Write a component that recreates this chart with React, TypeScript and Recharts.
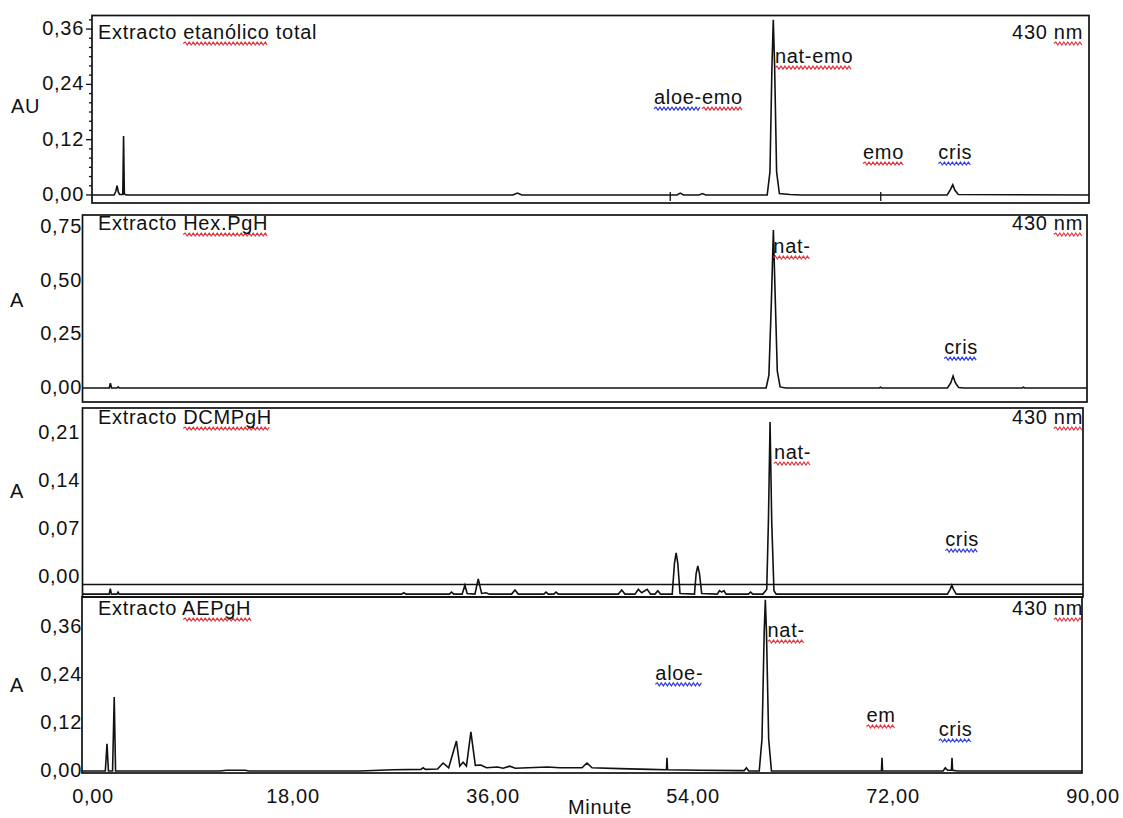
import React from 'react';
import { LineChart, Line, XAxis, YAxis, ReferenceArea, ReferenceLine, ReferenceDot } from 'recharts';

const W = 1123;
const H = 818;
const FONT = '"Liberation Sans", Arial, Helvetica, sans-serif';
const FS = 20;
const LS = 0.7;
const INK = '#111';
const RED = '#e3303a';
const BLUE = '#3040e0';

type Part = { s: string; u?: string };
type Ann = { t: number; v: number; parts: Part[] };

// ---------- shared x axis ----------
const xTicks = [0, 18, 36, 54, 72, 90];
const xTickLabels = ['0,00', '18,00', '36,00', '54,00', '72,00', '90,00'];

// ---------- Panel 1: Extracto etanólico total ----------
const totalTrace: [number, number][] = [
  [0, 0], [2.0, 0], [2.15, 0.008], [2.26, 0.02], [2.38, 0.006], [2.5, 0.001], [2.78, 0.001],
  [2.85, 0.128], [2.92, 0.002], [3.1, 0], [38.0, 0], [38.4, 0.004], [38.8, 0],
  [52.8, 0], [53.1, 0.004], [53.4, 0], [54.8, 0], [55.1, 0.003], [55.4, 0],
  [60.95, 0], [61.2, 0.05], [61.38, 0.28], [61.5, 0.38], [61.62, 0.28], [61.8, 0.05], [62.05, 0.003],
  [63.0, 0.001], [64.0, 0], [77.2, 0], [77.5, 0.012], [77.7, 0.022], [77.9, 0.01], [78.2, 0.001], [90, 0],
];
const totalTicks = [0, 0.12, 0.24, 0.36];
const totalTickLabels = ['0,00', '0,12', '0,24', '0,36'];
const totalMinorTicks = [0.02, 0.04, 0.06, 0.08, 0.1, 0.14, 0.16, 0.18, 0.2, 0.22, 0.26, 0.28, 0.3, 0.32, 0.34, 0.38];
const totalMarks = [52.2, 71.2];
const totalPeakLabels: Ann[] = [
  { t: 50.73, v: 0.197, parts: [{ s: 'aloe-', u: BLUE }, { s: 'emo', u: RED }] },
  { t: 61.65, v: 0.286, parts: [{ s: 'nat-emo', u: RED }] },
  { t: 69.6, v: 0.078, parts: [{ s: 'emo', u: RED }] },
  { t: 76.4, v: 0.078, parts: [{ s: 'cris', u: BLUE }] },
];

// ---------- Panel 2: Extracto Hex.PgH ----------
const hexTrace: [number, number][] = [
  [0, 0], [2.4, 0], [2.5, 0.023], [2.6, 0], [3.1, 0], [3.2, 0.005], [3.3, 0],
  [61.25, 0], [61.5, 0.06], [61.72, 0.4], [61.9, 0.736], [62.05, 0.45], [62.25, 0.08], [62.5, 0.005], [63, 0],
  [71.4, 0], [71.5, 0.004], [71.6, 0],
  [77.5, 0], [77.8, 0.025], [78.0, 0.056], [78.2, 0.025], [78.5, 0.002], [79, 0],
  [84.2, 0], [84.3, 0.004], [84.4, 0], [90, 0],
];
const hexTicks = [0, 0.25, 0.5, 0.75];
const hexTickLabels = ['0,00', '0,25', '0,50', '0,75'];
const hexPeakLabels: Ann[] = [
  { t: 61.9, v: 0.629, parts: [{ s: 'nat-', u: RED }] },
  { t: 77.2, v: 0.158, parts: [{ s: 'cris', u: BLUE }] },
];

// ---------- Panel 3: Extracto DCMPgH ----------
const dcmTrace: [number, number][] = [
  [0, -0.025], [2.4, -0.025], [2.5, -0.017], [2.6, -0.025], [3.1, -0.025], [3.2, -0.022], [3.3, -0.025],
  [28.7, -0.025], [28.9, -0.023], [29.1, -0.025],
  [33.0, -0.025], [33.2, -0.022], [33.4, -0.025],
  [34.15, -0.025], [34.4, -0.012], [34.6, -0.024],
  [35.3, -0.025], [35.6, -0.003], [35.9, -0.024], [36.3, -0.023], [36.6, -0.025],
  [38.6, -0.025], [38.9, -0.019], [39.2, -0.025],
  [41.5, -0.025], [41.7, -0.022], [41.9, -0.025],
  [42.4, -0.025], [42.6, -0.022], [42.8, -0.025],
  [48.2, -0.025], [48.5, -0.019], [48.8, -0.025],
  [49.7, -0.025], [50.0, -0.018], [50.3, -0.023], [50.8, -0.018], [51.1, -0.025],
  [51.5, -0.025], [51.75, -0.02], [52.0, -0.025],
  [53.05, -0.025], [53.25, 0.02], [53.4, 0.035], [53.55, 0.02], [53.75, -0.024],
  [55.05, -0.025], [55.2, 0.005], [55.35, 0.016], [55.5, 0.005], [55.7, -0.024],
  [57.1, -0.025], [57.3, -0.02], [57.5, -0.022], [57.7, -0.02], [57.9, -0.025],
  [59.9, -0.025], [60.1, -0.022], [60.3, -0.025],
  [61.2, -0.025], [61.45, -0.02], [61.55, -0.018], [61.7, 0.08], [61.85, 0.226], [62.0, 0.08], [62.2, -0.02], [62.4, -0.025],
  [77.8, -0.025], [78.05, -0.018], [78.2, -0.012], [78.35, -0.018], [78.6, -0.025],
  [90, -0.025],
];
const dcmTicks = [0, 0.07, 0.14, 0.21];
const dcmTickLabels = ['0,00', '0,07', '0,14', '0,21'];
const dcmStripLine = -0.011;
const dcmPeakLabels: Ann[] = [
  { t: 62.2, v: 0.172, parts: [{ s: 'nat-', u: RED }] },
  { t: 77.6, v: 0.045, parts: [{ s: 'cris', u: BLUE }] },
];

// ---------- Panel 4: Extracto AEPgH ----------
const aeTrace: [number, number][] = [
  [0, 0], [2.1, 0], [2.25, 0.068], [2.38, 0], [2.75, 0], [2.9, 0.185], [3.02, 0],
  [12.4, 0], [13, 0.002], [14.7, 0.002], [15, 0],
  [25, 0], [28, 0.003], [30.5, 0.004], [30.7, 0.008], [30.9, 0.004], [32.0, 0.005],
  [32.5, 0.02], [33.0, 0.008], [33.7, 0.075], [34.0, 0.012], [34.3, 0.022], [34.6, 0.012],
  [35.0, 0.098], [35.4, 0.014], [35.9, 0.015], [36.4, 0.008], [37.4, 0.01], [37.9, 0.007],
  [38.5, 0.012], [39.0, 0.007], [41.9, 0.01], [43.0, 0.008], [45.0, 0.008], [45.45, 0.02],
  [45.9, 0.008], [48.4, 0.006], [51.1, 0.004], [52.6, 0.003], [52.65, 0.033], [52.7, 0.003],
  [55.6, 0.002], [59.2, 0.001], [59.6, 0.001], [59.8, 0.008], [60.0, 0],
  [60.95, 0], [61.2, 0.08], [61.4, 0.35], [61.5, 0.428], [61.6, 0.35], [61.8, 0.08], [62.05, 0],
  [71.95, 0], [72.0, 0.033], [72.05, 0],
  [77.5, 0], [77.7, 0.008], [77.9, 0.002], [78.25, 0.002], [78.3, 0.033], [78.35, 0.002], [78.8, 0],
  [90, 0],
];
const aeTicks = [0, 0.12, 0.24, 0.36];
const aeTickLabels = ['0,00', '0,12', '0,24', '0,36'];
const aePeakLabels: Ann[] = [
  { t: 51.6, v: 0.228, parts: [{ s: 'aloe-', u: BLUE }] },
  { t: 61.7, v: 0.335, parts: [{ s: 'nat-', u: RED }] },
  { t: 70.6, v: 0.1225, parts: [{ s: 'em', u: RED }] },
  { t: 77.1, v: 0.0875, parts: [{ s: 'cris', u: BLUE }] },
];

// ---------- rendering helpers ----------
// Arial / Liberation Sans advance widths (per 1000 em)
const ADV: Record<string, number> = {
  ' ': 278, '-': 333, ',': 278, '.': 278, a: 556, c: 500, e: 556, g: 556, i: 222, l: 222,
  m: 833, n: 556, o: 556, 'ó': 556, r: 333, s: 500, t: 278, x: 500, E: 667, H: 722,
  P: 667, C: 722, D: 722, M: 833, A: 667, U: 722,
};
const textWidth = (s: string) =>
  Array.from(s).reduce((w, ch) => w + ((ADV[ch] ?? 556) * FS) / 1000 + LS, 0);

function squiggle(x0: number, x1: number, y: number) {
  const step = 2;
  let d = `M${x0},${y}`;
  let up = true;
  for (let x = x0 + step; x <= x1 + 0.01; x += step) {
    d += ` L${x},${up ? y - 1.5 : y + 1.5}`;
    up = !up;
  }
  return d;
}

function Txt({ x, y, parts, anchor = 'start' }: { x: number; y: number; parts: Part[]; anchor?: string }) {
  const widths = parts.map((p) => textWidth(p.s));
  const total = widths.reduce((a, b) => a + b, 0);
  const start = anchor === 'end' ? x - total : x;
  let cum = start;
  const lines: React.ReactNode[] = [];
  parts.forEach((p, i) => {
    const a = cum;
    const b = cum + widths[i] - LS;
    if (p.u) {
      lines.push(
        <path key={'u' + i} d={squiggle(a, b, y + 4.5)} fill="none" stroke={p.u} strokeWidth={1.2} />
      );
    }
    cum += widths[i];
  });
  return (
    <g>
      {lines}
      <text x={x} y={y} textAnchor={anchor as any} fontFamily={FONT} fontSize={FS} letterSpacing={LS} fill={INK}>
        {parts.map((p) => p.s).join('')}
      </text>
    </g>
  );
}

type Box = { left: number; right: number; top: number; bottom: number };
type PanelProps = {
  trace: [number, number][];
  box: Box;
  domain: [number, number];
  ticks: number[];
  tickLabels: string[];
  minor?: number[];
  tickLen?: number;
  labelEnd: number;
  title: Part[];
  unit: string;
  unitX: number;
  unitY: number;
  titleY: number;
  peaks: Ann[];
  marks?: number[];
  stripLine?: number;
  showX?: boolean;
};

function Panel(props: PanelProps) {
  const { trace, box, domain, ticks, tickLabels, minor = [], tickLen = 0, labelEnd, title, unit, unitX, unitY, titleY, peaks, marks = [], stripLine, showX } = props;
  const data = trace.map(([t, v]) => ({ t, v }));
  const xh = showX ? 45 : 0;
  const allTicks = [...ticks, ...minor].sort((a, b) => a - b);

  const YTick = (p: any) => {
    const i = ticks.indexOf(p.payload.value);
    const major = i >= 0;
    return (
      <g>
        {tickLen ? (
          <line x1={p.x - (major ? tickLen : tickLen / 2)} x2={p.x} y1={p.y} y2={p.y} stroke={INK} strokeWidth={1.3} />
        ) : null}
        {major ? (
          <text x={labelEnd} y={p.y + 6} textAnchor="end" fontFamily={FONT} fontSize={FS} letterSpacing={LS} fill={INK}>
            {tickLabels[i]}
          </text>
        ) : null}
      </g>
    );
  };

  const XTick = (p: any) => {
    const i = xTicks.indexOf(p.payload.value);
    return (
      <text x={p.x + 11} y={p.y + 30} textAnchor="middle" fontFamily={FONT} fontSize={FS} letterSpacing={LS} fill={INK}>
        {xTickLabels[i]}
      </text>
    );
  };

  const frame = (p: any) => (
    <g>
      <rect x={p.x} y={p.y} width={p.width} height={p.height} fill="none" stroke={INK} strokeWidth={1.7} />
      <Txt x={98} y={titleY} parts={title} />
      <Txt x={1083} y={titleY} parts={[{ s: '430 ' }, { s: 'nm', u: RED }]} anchor="end" />
      <text x={unitX} y={unitY} fontFamily={FONT} fontSize={FS} letterSpacing={LS} fill={INK}>{unit}</text>
      {showX ? (
        <text x={p.x + p.width / 2 + 18} y={p.y + p.height + 41} textAnchor="middle" fontFamily={FONT} fontSize={FS} letterSpacing={LS} fill={INK}>
          Minute
        </text>
      ) : null}
    </g>
  );

  return (
    <div style={{ position: 'absolute', left: 0, top: 0 }}>
      <LineChart
        width={W}
        height={H}
        data={data}
        margin={{ top: box.top, right: W - box.right, bottom: H - box.bottom - xh, left: 0 }}
      >
        <XAxis
          dataKey="t"
          type="number"
          domain={[0, 90]}
          allowDataOverflow
          hide={!showX}
          height={showX ? xh : undefined}
          ticks={xTicks}
          interval={0}
          axisLine={false}
          tickLine={false}
          tickSize={0}
          tickMargin={0}
          tick={XTick}
        />
        <YAxis
          type="number"
          domain={domain}
          allowDataOverflow
          ticks={allTicks}
          interval={0}
          width={box.left}
          axisLine={false}
          tickLine={false}
          tickSize={0}
          tickMargin={0}
          tick={YTick}
        />
        <ReferenceArea x1={0} x2={90} y1={domain[0]} y2={domain[1]} ifOverflow="visible" shape={frame} />
        {stripLine !== undefined ? (
          <ReferenceLine y={stripLine} stroke={INK} strokeWidth={1.7} ifOverflow="visible" />
        ) : null}
        {marks.map((m, i) => (
          <ReferenceLine
            key={'m' + i}
            segment={[{ x: m, y: 0.0065 }, { x: m, y: -0.013 }]}
            stroke={INK}
            strokeWidth={1.3}
            ifOverflow="visible"
          />
        ))}
        <Line
          dataKey="v"
          type="linear"
          stroke={INK}
          strokeWidth={1.6}
          dot={false}
          activeDot={false}
          isAnimationActive={false}
        />
        {peaks.map((a, i) => (
          <ReferenceDot
            key={'a' + i}
            x={a.t}
            y={a.v}
            r={0}
            ifOverflow="visible"
            shape={(p: any) => <Txt x={p.cx} y={p.cy} parts={a.parts} />}
          />
        ))}
      </LineChart>
    </div>
  );
}

export default function App() {
  return (
    <div style={{ position: 'absolute', left: 0, top: 0, width: W, height: H, background: '#fff', overflow: 'hidden' }}>
      <Panel
        trace={totalTrace}
        box={{ left: 92, right: 1089, top: 15.5, bottom: 203 }}
        domain={[-0.0174, 0.3894]}
        ticks={totalTicks}
        tickLabels={totalTickLabels}
        minor={totalMinorTicks}
        tickLen={6}
        labelEnd={84}
        title={[{ s: 'Extracto ' }, { s: 'etanólico', u: RED }, { s: ' total' }]}
        unit="AU"
        unitX={11}
        unitY={113}
        titleY={39}
        peaks={totalPeakLabels}
        marks={totalMarks}
      />
      <Panel
        trace={hexTrace}
        box={{ left: 82.5, right: 1087, top: 215, bottom: 402 }}
        domain={[-0.0652, 0.8058]}
        ticks={hexTicks}
        tickLabels={hexTickLabels}
        labelEnd={82}
        title={[{ s: 'Extracto ' }, { s: 'Hex.PgH', u: RED }]}
        unit="A"
        unitX={10}
        unitY={307}
        titleY={230}
        peaks={hexPeakLabels}
      />
      <Panel
        trace={dcmTrace}
        box={{ left: 82.5, right: 1083, top: 408, bottom: 597 }}
        domain={[-0.0292, 0.2464]}
        ticks={dcmTicks}
        tickLabels={dcmTickLabels}
        labelEnd={80}
        title={[{ s: 'Extracto ' }, { s: 'DCMPgH', u: RED }]}
        unit="A"
        unitX={10}
        unitY={498}
        titleY={424}
        peaks={dcmPeakLabels}
        stripLine={dcmStripLine}
      />
      <Panel
        trace={aeTrace}
        box={{ left: 82, right: 1082, top: 597, bottom: 773 }}
        domain={[-0.005, 0.435]}
        ticks={aeTicks}
        tickLabels={aeTickLabels}
        labelEnd={82}
        title={[{ s: 'Extracto ' }, { s: 'AEPgH', u: RED }]}
        unit="A"
        unitX={10}
        unitY={692}
        titleY={615}
        peaks={aePeakLabels}
        showX
      />
    </div>
  );
}
